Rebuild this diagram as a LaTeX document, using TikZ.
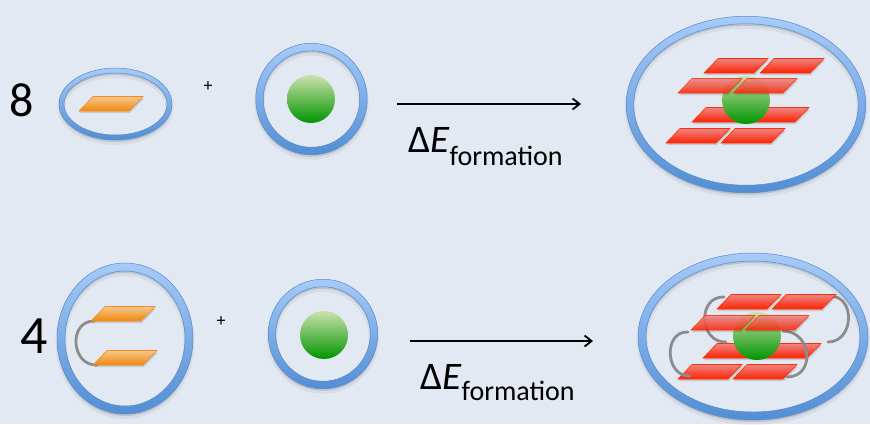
\documentclass[tikz,border=0pt]{standalone}
\usepackage{fontspec}
\setmainfont{Carlito}
\usetikzlibrary{arrows.meta}

\definecolor{bg}{RGB}{226,233,243}
\definecolor{ringtop}{RGB}{166,203,248}
\definecolor{ringbot}{RGB}{82,142,212}
\definecolor{ringedge}{RGB}{88,138,204}
\definecolor{balltop}{RGB}{204,226,172}
\definecolor{ballbot}{RGB}{0,148,0}
\definecolor{redtop}{RGB}{236,132,132}
\definecolor{redmid}{RGB}{248,64,40}
\definecolor{redbot}{RGB}{255,34,0}
\definecolor{rededge}{RGB}{255,48,0}
\definecolor{orangetop}{RGB}{244,198,144}
\definecolor{orangebot}{RGB}{242,136,12}
\definecolor{orangeedge}{RGB}{245,138,28}
\definecolor{loopgray}{RGB}{140,140,140}

% one sheared tile: bottom-left corner #1,#2 and a shading style #3
\newcommand\tile[3]{%
  \fill[black, opacity=0.13] (#1+1,#2+2) -- ++(50,0) -- ++(14,-14.5) -- ++(-50,0) -- cycle;
  \shade[#3] (#1,#2) -- ++(50,0) -- ++(14,-14.5) -- ++(-50,0) -- cycle;
}

\tikzset{
  x=1pt, y=-1pt,
  pics/ring/.style n args={3}{code={
    % soft shadow under the ring
    \fill[black, opacity=0.05, even odd rule]
      (0,3.5) ellipse [x radius={#1+#3/2+1.5}, y radius={#2+#3/2+1.5}]
      (0,3.5) ellipse [x radius={#1-#3/2-1.5}, y radius={#2-#3/2-1.5}];
    \fill[black, opacity=0.12, even odd rule]
      (0,2) ellipse [x radius={#1+#3/2}, y radius={#2+#3/2}]
      (0,2) ellipse [x radius={#1-#3/2}, y radius={#2-#3/2}];
    % the ring itself
    \shade[top color=ringtop, bottom color=ringbot, draw=ringedge,
           line width=0.5pt, even odd rule]
      (0,0) ellipse [x radius={#1+#3/2}, y radius={#2+#3/2}]
      (0,0) ellipse [x radius={#1-#3/2}, y radius={#2-#3/2}];
  }},
  ball/.style={top color=balltop, bottom color=ballbot},
  redtile/.style={top color=redtop, middle color=redmid, bottom color=redbot,
                  draw=rededge, line width=0.6pt},
  redtilefront/.style={redtile, opacity=0.86},
  orangetile/.style={top color=orangetop, bottom color=orangebot,
                     draw=orangeedge, line width=0.6pt},
  loop/.style={draw=loopgray, line width=2.8pt, line cap=round},
  reaction/.style={-{Straight Barb[length=7pt,width=11pt]}, line width=1.8pt},
  count/.style={inner sep=0pt, font=\fontsize{48}{48}\selectfont},
  plus/.style={inner sep=0pt, font=\fontsize{18}{18}\selectfont},
  energy/.style={inner sep=0pt, anchor=base west, font=\fontsize{39}{39}\selectfont},
}
\newcommand\formsub[1]{\raisebox{-#1}{\fontsize{28}{28}\selectfont formation}}

\begin{document}
\begin{tikzpicture}
\fill[bg] (0,0) rectangle (870,424);
\useasboundingbox (0,0) rectangle (870,424);

% ---------- first reaction: 8 single tiles + guest ----------
\node[count] (n8) at (22,100) {8};
\pic at (115.5,104) {ring={54}{33.5}{5}};
\tile{79}{111}{orangetile}
\node[plus] (plus1) at (208,87) {+};
\pic at (311.5,99) {ring={52}{52}{7.5}};
\shade[ball] (311,99) circle [radius=24];

\coordinate (a1s) at (397,104);
\coordinate (a1e) at (581,104);
\draw[reaction] (a1s) -- (a1e);
\node[energy] (lab1) at (408,152) {Δ\textit{E}\formsub{13pt}};

% product: stacked tiles around the guest
\pic at (746,104.5) {ring={116}{84.5}{7.5}};
\tile{692}{122}{redtile}
\tile{745}{122}{redtile}
\tile{666}{143}{redtile}
\tile{721}{143}{redtile}
\shade[ball] (746,100) circle [radius=24];
\tile{704}{73}{redtile}
\tile{760}{73}{redtile}
\tile{678}{93}{redtilefront}
\tile{733}{93}{redtilefront}

% ---------- second reaction: 4 linked pairs + guest ----------
\node[count, font=\fontsize{54}{54}\selectfont] (n4) at (34,336) {4};
\pic at (125,338.5) {ring={64}{71.5}{8}};
\draw[loop] (94,321) .. controls (68,321) and (71,366) .. (97,365);
\tile{91}{321}{orangetile}
\tile{93}{365}{orangetile}
\node[plus] (plus2) at (221,322) {+};
\pic at (323,334) {ring={51}{51}{7.5}};
\shade[ball] (324,335) circle [radius=24];

\coordinate (a2s) at (410,341);
\coordinate (a2e) at (593,341);
\draw[reaction] (a2s) -- (a2e);
\node[energy] (lab2) at (420,389) {Δ\textit{E}\formsub{11pt}};

% product: linked tiles around the guest
\pic at (753,336.5) {ring={111}{79.5}{8}};
\tile{703}{358}{redtile}
\tile{757}{358}{redtile}
\tile{678}{379}{redtile}
\tile{733}{379}{redtile}
\draw[loop] (724,297) .. controls (697,296) and (699,343) .. (726,342);
\draw[loop] (688,332) .. controls (663,331) and (665,377) .. (690,376);
\draw[loop] (830,296) .. controls (856,296) and (854,342) .. (828,342);
\draw[loop] (783,331) .. controls (812,331) and (816,377) .. (787,377);
\shade[ball] (757,336) circle [radius=24];
\tile{717}{309}{redtile}
\tile{772}{309}{redtile}
\tile{691}{330}{redtilefront}
\tile{745}{330}{redtilefront}
\end{tikzpicture}
\end{document}
